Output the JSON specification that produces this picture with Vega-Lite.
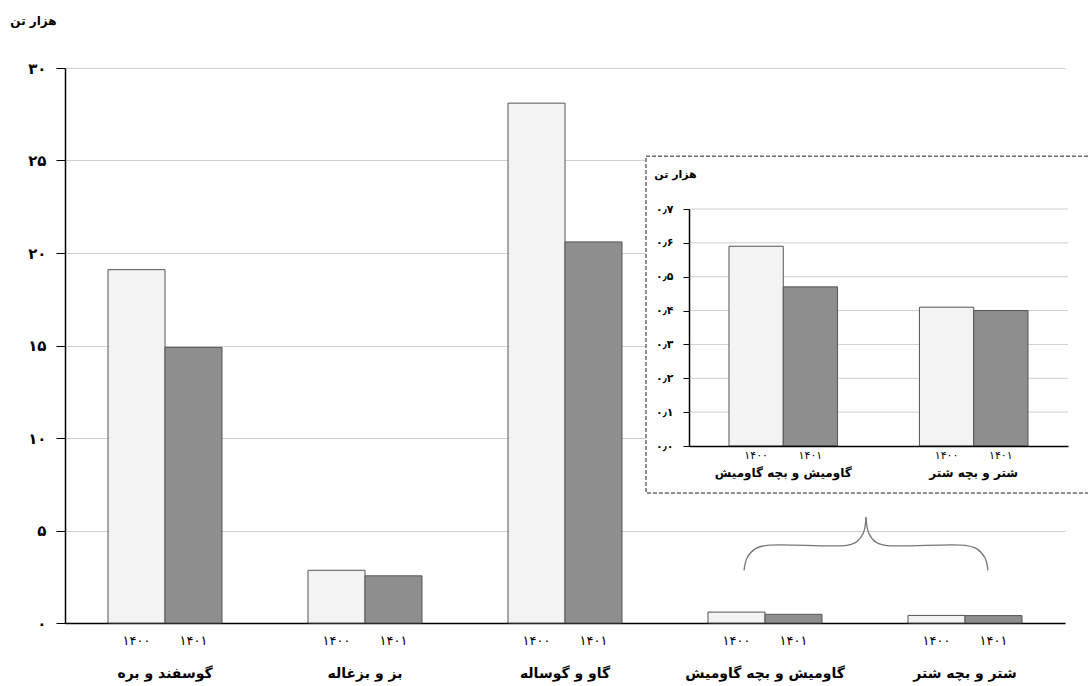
{
  "$schema": "https://vega.github.io/schema/vega-lite/v6.json",
  "width": 1000,
  "height": 555,
  "autosize": "none",
  "padding": {"left": 65, "top": 68, "right": 23, "bottom": 63},
  "background": "white",
  "config": {
    "font": "DejaVu Sans",
    "view": {"stroke": null},
    "axis": {"labelFont": "DejaVu Sans", "titleFont": "DejaVu Sans", "labelColor": "#000", "titleColor": "#000"}
  },
  "datasets": {
    "livestock": [
      {"cat": "گوسفند و بره", "year": "۱۴۰۰", "value": 19.1},
      {"cat": "گوسفند و بره", "year": "۱۴۰۱", "value": 14.9},
      {"cat": "بز و بزغاله", "year": "۱۴۰۰", "value": 2.85},
      {"cat": "بز و بزغاله", "year": "۱۴۰۱", "value": 2.55},
      {"cat": "گاو و گوساله", "year": "۱۴۰۰", "value": 28.1},
      {"cat": "گاو و گوساله", "year": "۱۴۰۱", "value": 20.6},
      {"cat": "گاومیش و بچه گاومیش", "year": "۱۴۰۰", "value": 0.59},
      {"cat": "گاومیش و بچه گاومیش", "year": "۱۴۰۱", "value": 0.47},
      {"cat": "شتر و بچه شتر", "year": "۱۴۰۰", "value": 0.41},
      {"cat": "شتر و بچه شتر", "year": "۱۴۰۱", "value": 0.4}
    ]
  },
  "resolve": {
    "scale": {"x": "independent", "y": "independent", "xOffset": "independent"},
    "axis": {"x": "independent", "y": "independent"}
  },
  "layer": [
    {
      "data": {"name": "livestock"},
      "layer": [
        {
          "mark": {"type": "bar", "stroke": "#555", "strokeWidth": 1},
          "encoding": {
            "x": {
              "field": "cat", "type": "nominal", "sort": null,
              "scale": {"paddingInner": 0.43, "paddingOuter": 0.215},
              "axis": {"title": null, "ticks": false, "labelAngle": 0, "labelFontSize": 14, "labelFontWeight": "bold", "labelPadding": 43, "domainColor": "#000", "domainWidth": 1.5}
            },
            "xOffset": {"field": "year", "type": "nominal", "sort": ["۱۴۰۰", "۱۴۰۱"]},
            "y": {
              "field": "value", "type": "quantitative",
              "scale": {"domain": [0, 30], "nice": false},
              "axis": {
                "values": [0, 5, 10, 15, 20, 25, 30],
                "labelExpr": "['۰','۵','۱۰','۱۵','۲۰','۲۵','۳۰'][round(datum.value/5)]",
                "labelFontSize": 15, "labelFontWeight": "bold", "labelPadding": 10,
                "tickSize": 9, "tickColor": "#000", "domainColor": "#000", "domainWidth": 1.5,
                "gridColor": "#d0d0d0", "grid": true,
                "title": "هزار تن", "titleAngle": 0, "titleX": -32, "titleY": -48,
                "titleAlign": "center", "titleBaseline": "middle", "titleFontSize": 12, "titleFontWeight": "bold"
              }
            },
            "fill": {"field": "year", "type": "nominal", "scale": {"domain": ["۱۴۰۰", "۱۴۰۱"], "range": ["#f3f3f3", "#8e8e8e"]}, "legend": null}
          }
        },
        {
          "mark": {"type": "text", "dy": 18, "fontSize": 13, "color": "#000"},
          "encoding": {
            "x": {"field": "cat", "type": "nominal", "sort": null},
            "xOffset": {"field": "year", "type": "nominal", "sort": ["۱۴۰۰", "۱۴۰۱"]},
            "y": {"datum": 0, "type": "quantitative"},
            "text": {"field": "year"}
          }
        }
      ]
    },
    {
      "layer": [
        {
          "data": {"values": [{}]},
          "mark": {"type": "rect", "fill": "white", "stroke": "#6a6a6a", "strokeDash": [4, 2], "strokeWidth": 1.5},
          "encoding": {
            "x": {"datum": 3.405, "type": "quantitative", "scale": {"domain": [0.5, 5.5], "nice": false, "zero": false}, "axis": null},
            "x2": {"datum": 5.65},
            "y": {"datum": -0.139, "type": "quantitative", "scale": {"domain": [0, 0.7], "range": [378, 141], "nice": false}, "axis": null},
            "y2": {"datum": 0.856}
          }
        },
        {
          "data": {"values": [{"tick": 0.1}, {"tick": 0.2}, {"tick": 0.3}, {"tick": 0.4}, {"tick": 0.5}, {"tick": 0.6}, {"tick": 0.7}]},
          "mark": {"type": "rule", "color": "#cfcfcf", "strokeWidth": 1},
          "encoding": {
            "x": {"datum": 3.62, "type": "quantitative"},
            "x2": {"datum": 5.515},
            "y": {"field": "tick", "type": "quantitative"}
          }
        },
        {
          "data": {"values": [
            {"side": "a", "step": 1, "bx": 3.895, "by": -0.3672},
            {"side": "a", "step": 2, "bx": 3.9105, "by": -0.3302},
            {"side": "a", "step": 3, "bx": 3.9525, "by": -0.3031},
            {"side": "a", "step": 4, "bx": 4.01, "by": -0.2932},
            {"side": "a", "step": 5, "bx": 4.41, "by": -0.2932},
            {"side": "a", "step": 6, "bx": 4.4575, "by": -0.2832},
            {"side": "a", "step": 7, "bx": 4.4923, "by": -0.2561},
            {"side": "a", "step": 8, "bx": 4.505, "by": -0.2102},
            {"side": "b", "step": 1, "bx": 4.505, "by": -0.2102},
            {"side": "b", "step": 2, "bx": 4.5178, "by": -0.2561},
            {"side": "b", "step": 3, "bx": 4.5525, "by": -0.2832},
            {"side": "b", "step": 4, "bx": 4.6, "by": -0.2932},
            {"side": "b", "step": 5, "bx": 5.0, "by": -0.2932},
            {"side": "b", "step": 6, "bx": 5.0575, "by": -0.3031},
            {"side": "b", "step": 7, "bx": 5.0995, "by": -0.3302},
            {"side": "b", "step": 8, "bx": 5.115, "by": -0.3672}
          ]},
          "mark": {"type": "line", "interpolate": "catmull-rom", "color": "#777", "strokeWidth": 1.3},
          "encoding": {
            "x": {"field": "bx", "type": "quantitative"},
            "y": {"field": "by", "type": "quantitative"},
            "detail": {"field": "side"},
            "order": {"field": "step"}
          }
        }
      ]
    },
    {
      "data": {"name": "livestock"},
      "transform": [{"filter": "datum.value < 1"}],
      "layer": [
        {
          "mark": {"type": "bar", "stroke": "#555", "strokeWidth": 1},
          "encoding": {
            "x": {
              "field": "cat", "type": "nominal", "sort": null,
              "scale": {"range": [624, 1003], "paddingInner": 0.43, "paddingOuter": 0.21},
              "axis": {"orient": "bottom", "offset": -177, "zindex": 1, "title": null, "ticks": false, "labelAngle": 0, "labelFontSize": 12, "labelFontWeight": "bold", "labelPadding": 21, "domainColor": "#000", "domainWidth": 1.5}
            },
            "xOffset": {"field": "year", "type": "nominal", "sort": ["۱۴۰۰", "۱۴۰۱"]},
            "y": {
              "field": "value", "type": "quantitative",
              "scale": {"domain": [0, 0.7], "range": [378, 141], "nice": false},
              "axis": {
                "orient": "left", "offset": -624, "zindex": 1, "grid": false,
                "values": [0, 0.1, 0.2, 0.3, 0.4, 0.5, 0.6, 0.7],
                "labelExpr": "['۰٫۰','۰٫۱','۰٫۲','۰٫۳','۰٫۴','۰٫۵','۰٫۶','۰٫۷'][round(datum.value*10)]",
                "labelFontSize": 11, "labelFontWeight": "bold", "labelPadding": 10,
                "tickSize": 6, "tickColor": "#000", "domainColor": "#000", "domainWidth": 1.5,
                "title": "هزار تن", "titleAngle": 0, "titleX": -14, "titleY": 106,
                "titleAlign": "center", "titleBaseline": "middle", "titleFontSize": 11, "titleFontWeight": "bold"
              }
            },
            "fill": {"field": "year", "type": "nominal", "scale": {"domain": ["۱۴۰۰", "۱۴۰۱"], "range": ["#f3f3f3", "#8e8e8e"]}, "legend": null}
          }
        },
        {
          "mark": {"type": "text", "dy": 10, "fontSize": 11, "color": "#000"},
          "encoding": {
            "x": {"field": "cat", "type": "nominal", "sort": null},
            "xOffset": {"field": "year", "type": "nominal", "sort": ["۱۴۰۰", "۱۴۰۱"]},
            "y": {"datum": 0, "type": "quantitative"},
            "text": {"field": "year"}
          }
        }
      ]
    }
  ]
}
